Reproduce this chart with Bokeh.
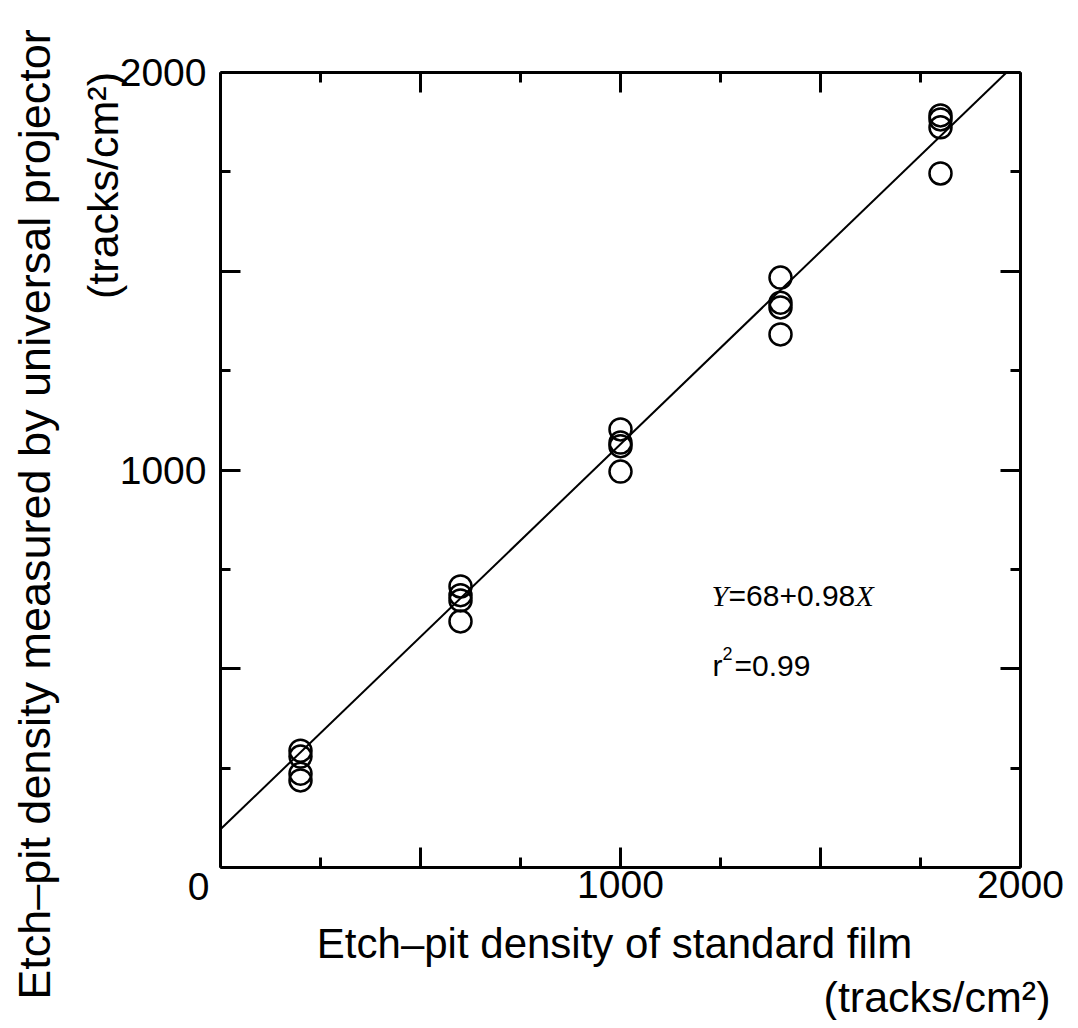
import math
from bokeh.plotting import figure
from bokeh.models import Label, LinearAxis, FixedTicker, Range1d
from bokeh.embed import file_html
from bokeh.resources import INLINE

# ---- data ----
standard_density = [200, 200, 200, 200,
                    600, 600, 600, 600,
                    1000, 1000, 1000, 1000,
                    1400, 1400, 1400, 1400,
                    1800, 1800, 1800, 1800]
measured_density = [294, 279, 236, 219,
                    707, 685, 672, 619,
                    1102, 1069, 1060, 996,
                    1484, 1421, 1409, 1341,
                    1892, 1882, 1862, 1746]
fit_x = [0, 1965]
fit_y = [96, 2000]
axis_min, axis_max = 0, 2000
major_ticks = [0, 500, 1000, 1500, 2000]
minor_ticks = [250, 750, 1250, 1750]
tick_labels = {0: "", 500: "", 1000: "1000", 1500: "", 2000: "2000"}

SANS = "Liberation Sans"
SERIF = "Liberation Serif"

# ---- layout (page pixels) ----
W, H = 1070, 1020
BOX_L, BOX_R, BOX_T, BOX_B = 220, 1020, 72, 867
kx = (BOX_R - BOX_L) / (axis_max - axis_min)
ky = (BOX_B - BOX_T) / (axis_max - axis_min)
x_lo = axis_min - BOX_L / kx
x_hi = x_lo + W / kx
y_hi = axis_max + BOX_T / ky
y_lo = y_hi - H / ky

p = figure(width=W, height=H,
           x_range=Range1d(x_lo, x_hi), y_range=Range1d(y_lo, y_hi),
           x_axis_type=None, y_axis_type=None, min_border=0,
           output_backend="svg", toolbar_location=None,
           background_fill_color="white", border_fill_color="white")
p.grid.visible = False
p.outline_line_color = None

axes = {
    "below": LinearAxis(fixed_location=axis_min),
    "left": LinearAxis(fixed_location=axis_min),
    "above": LinearAxis(fixed_location=axis_max),
    "right": LinearAxis(fixed_location=axis_max),
}
for side, ax in axes.items():
    ax.bounds = (axis_min, axis_max)
    ax.ticker = FixedTicker(ticks=major_ticks, minor_ticks=minor_ticks)
    ax.major_tick_in = 20
    ax.major_tick_out = 0
    ax.minor_tick_in = 10
    ax.minor_tick_out = 0
    ax.major_tick_line_width = 3
    ax.minor_tick_line_width = 3
    ax.axis_line_width = 3
    ax.major_label_text_font = SANS
    ax.major_label_text_font_size = "39px"
    ax.major_label_text_color = "black"
    if side in ("below", "left"):
        ax.major_label_overrides = dict(tick_labels)
    else:
        ax.major_label_overrides = {t: "" for t in major_ticks}
    p.add_layout(ax, side)
axes["below"].major_label_standoff = 3
axes["left"].major_label_standoff = 14

p.line(fit_x, fit_y, line_color="black", line_width=2)
p.scatter(standard_density, measured_density, marker="circle", size=22,
          fill_color=None, line_color="black", line_width=2.5)


def lab(text, px, py, size, font=SANS, style="normal", align="left",
        baseline="alphabetic", angle=0.0):
    p.add_layout(Label(x=px, y=H - py, x_units="screen", y_units="screen",
                       text=text, text_font=font, text_font_style=style,
                       text_font_size=f"{size}px", text_align=align,
                       text_baseline=baseline, angle=angle,
                       text_color="black"))


# origin label
lab("0", 198, 886, 39, align="center", baseline="middle")

# equation
lab("Y", 711, 595, 30, font=SERIF, style="italic")
lab("=68+0.98", 728, 595, 30)
lab("X", 855, 595, 30, font=SERIF, style="italic")
lab("r", 712, 665, 30)
lab("2", 722, 653, 18)
lab("=0.99", 734, 665, 30)

# axis titles
lab("Etch\u2013pit density of standard film", 614, 943, 42,
    align="center", baseline="middle")
lab("(tracks/cm\u00b2)", 1050, 996, 43, align="right", baseline="middle")
lab("Etch\u2013pit density measured by universal projector", 34, 514, 45,
    align="center", baseline="middle", angle=math.pi / 2)
lab("(tracks/cm\u00b2)", 102, 185, 43,
    align="center", baseline="middle", angle=math.pi / 2)

open("out.html", "w").write(file_html(p, INLINE))
